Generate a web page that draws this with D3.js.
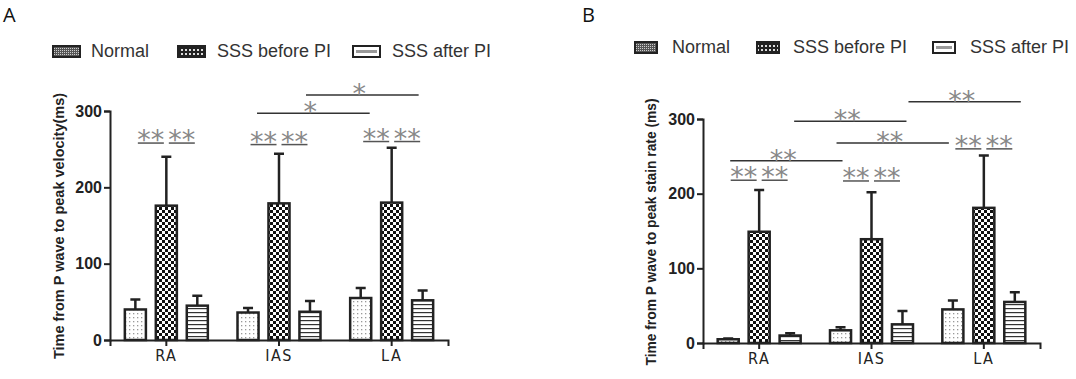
<!DOCTYPE html>
<html lang="en">
<head>
<meta charset="utf-8">
<title>Time from P wave to peak</title>
<style>
    body { margin: 0; background: #fff; }
    svg { display: block; }
    .yax .tick text { font-family: "Liberation Sans", Arial, sans-serif; font-weight: bold; font-size: 16px; fill: #222; }
    .cat .tick text { font-family: "DejaVu Sans Condensed", "Liberation Sans Narrow", sans-serif; font-weight: normal; font-size: 16px; fill: #222; }
</style>
</head>
<body>
<script src="https://cdnjs.cloudflare.com/ajax/libs/d3/7.9.0/d3.min.js"></script>
<script>

const categories = ["RA", "IAS", "LA"];
const series = ["Normal", "SSS before PI", "SSS after PI"];
const yTicks = [0, 100, 200, 300];

// panel A: time to peak velocity (ms)
const meanA = [[40, 176, 45], [36, 179, 37], [55, 180, 52]];
const errA  = [[13, 64, 13], [6, 65, 14], [13, 72, 13]];
// pair marks: [category, seriesFrom, seriesTo, y]
const pairsA = [[0, 0, 1, 258], [0, 1, 2, 258], [1, 0, 1, 256], [1, 1, 2, 256], [2, 0, 1, 260], [2, 1, 2, 260]];
// long brackets: [catFrom, serFrom, catTo, serTo, y, label, dx]
const bracketsA = [[1, 0, 2, 0, 297, "*", 9], [1, 2, 2, 2, 321, "*", -4]];

// panel B: time to peak strain rate (ms)
const meanB = [[5, 149, 10], [17, 139, 25], [45, 181, 55]];
const errB  = [[1, 56, 3], [4, 63, 18], [12, 70, 13]];
const pairsB = [[0, 0, 1, 218], [0, 1, 2, 218], [1, 0, 1, 217], [1, 1, 2, 217], [2, 0, 1, 260], [2, 1, 2, 260]];
const bracketsB = [[0, 0, 1, 0, 244, "**", 2], [0, 2, 1, 2, 297, "**", 4], [1, 0, 2, 0, 268, "**", -4], [1, 2, 2, 2, 323, "**", 6]];

const svg = d3.select("body").append("svg")
    .attr("width", 1076)
    .attr("height", 379);

// patterns
const defs = svg.append("defs");

const pDots = defs.append("pattern").attr("id", "dots")
    .attr("patternUnits", "userSpaceOnUse").attr("width", 4).attr("height", 4);
pDots.append("rect").attr("width", 4).attr("height", 4).attr("fill", "#fff");
pDots.append("rect").attr("x", 1).attr("y", 1).attr("width", 1.3).attr("height", 1.3).attr("fill", "#999");

const pCheck = defs.append("pattern").attr("id", "check")
    .attr("patternUnits", "userSpaceOnUse").attr("width", 6).attr("height", 6);
pCheck.append("rect").attr("width", 6).attr("height", 6).attr("fill", "#fff");
pCheck.append("rect").attr("width", 3).attr("height", 3).attr("fill", "#111");
pCheck.append("rect").attr("x", 3).attr("y", 3).attr("width", 3).attr("height", 3).attr("fill", "#111");

const pStripe = defs.append("pattern").attr("id", "stripe")
    .attr("patternUnits", "userSpaceOnUse").attr("width", 4).attr("height", 4);
pStripe.append("rect").attr("width", 4).attr("height", 4).attr("fill", "#fff");
pStripe.append("rect").attr("y", 0).attr("width", 4).attr("height", 1.2).attr("fill", "#333");

// legend patterns (darker, small)
const lgDots = defs.append("pattern").attr("id", "lgdots")
    .attr("patternUnits", "userSpaceOnUse").attr("width", 2).attr("height", 2);
lgDots.append("rect").attr("width", 2).attr("height", 2).attr("fill", "#555");
lgDots.append("rect").attr("width", 1).attr("height", 1).attr("fill", "#ccc");

const lgCheck = defs.append("pattern").attr("id", "lgcheck")
    .attr("patternUnits", "userSpaceOnUse").attr("width", 4).attr("height", 4);
lgCheck.append("rect").attr("width", 4).attr("height", 4).attr("fill", "#222");
lgCheck.append("rect").attr("x", 1).attr("y", 1).attr("width", 2).attr("height", 2).attr("fill", "#ddd");

const fills = ["url(#dots)", "url(#check)", "url(#stripe)"];
const legendFills = ["url(#lgdots)", "url(#lgcheck)", "#fff"];

function drawPanel(opt) {
    const g = svg.append("g");

    const x0 = d3.scaleBand().domain(categories).range(opt.xRange);
    const x1 = d3.scaleBand().domain(series).range([-41.5, 41.5]).paddingInner(0.32);
    const y = d3.scaleLinear().domain([0, 300]).range(opt.yRange);
    const barX = (c, s) => x0(categories[c]) + x0.bandwidth() / 2 + x1(series[s]) + x1.bandwidth() / 2;

    // panel letter
    g.append("text").attr("x", opt.letterX).attr("y", 22)
        .attr("font-family", "'Open Sans', 'DejaVu Sans', sans-serif").attr("font-size", 20)
        .attr("fill", "#111").text(opt.letter);

    // legend
    const lg = g.selectAll(".lg").data(series).enter().append("g");
    lg.append("rect")
        .attr("x", (d, i) => opt.legend[i][0]).attr("y", opt.legendY - 5)
        .attr("width", opt.swW).attr("height", 11)
        .attr("fill", (d, i) => legendFills[i])
        .attr("stroke", "#222").attr("stroke-width", 2);
    lg.filter((d, i) => i === 2).append("rect")
        .attr("x", opt.legend[2][0] + 3).attr("y", opt.legendY - 1)
        .attr("width", opt.swW - 6).attr("height", 3)
        .attr("fill", "#999");
    lg.append("text")
        .attr("x", (d, i) => opt.legend[i][1]).attr("y", opt.legendY + 6)
        .attr("font-family", "'Liberation Sans', Arial, sans-serif").attr("font-size", 18)
        .attr("fill", "#333").text(d => d);

    // y axis
    const yAxis = g.append("g").attr("class", "yax")
        .attr("transform", `translate(${opt.xRange[0]},0)`)
        .call(d3.axisLeft(y).tickValues(yTicks).tickSize(6).tickPadding(2));
    yAxis.select(".domain").attr("stroke", "#222").attr("stroke-width", 2);
    yAxis.selectAll(".tick line").attr("stroke", "#222").attr("stroke-width", 2);
    yAxis.selectAll(".tick text").attr("font-family", null).attr("font-size", null);

    // x axis
    const xAxis = g.append("g").attr("class", "cat")
        .attr("transform", `translate(0,${opt.yRange[0]})`)
        .call(d3.axisBottom(x0).tickSizeOuter(0).tickSize(6).tickPadding(4));
    xAxis.select(".domain").attr("stroke", "#222").attr("stroke-width", 2);
    xAxis.selectAll(".tick line").attr("stroke", "#222").attr("stroke-width", 2);
    xAxis.selectAll(".tick text").attr("font-size", null).attr("font-family", null).attr("letter-spacing", 1.5);

    // y label
    g.append("text")
        .attr("transform", `translate(${opt.labelX},${opt.labelY}) rotate(-90)`)
        .attr("text-anchor", "middle")
        .attr("font-family", "'Liberation Sans', Arial, sans-serif")
        .attr("font-weight", "bold").attr("font-size", opt.labelSize)
        .attr("fill", "#222").text(opt.label);

    // bars
    const flat = [];
    opt.mean.forEach((row, c) => row.forEach((v, s) => flat.push({c, s, v, e: opt.err[c][s]})));

    const bw = x1.bandwidth();
    g.selectAll(".err").data(flat).enter().append("path")
        .attr("d", d => {
            const cx = barX(d.c, d.s);
            return `M${cx},${y(d.v)}V${y(d.v + d.e)}M${cx - 5},${y(d.v + d.e)}H${cx + 5}`;
        })
        .attr("stroke", "#222").attr("stroke-width", 2.5).attr("fill", "none");

    g.selectAll(".bar").data(flat).enter().append("rect")
        .attr("x", d => barX(d.c, d.s) - bw / 2)
        .attr("y", d => y(d.v))
        .attr("width", bw)
        .attr("height", d => y(0) - y(d.v))
        .attr("fill", d => fills[d.s])
        .attr("stroke", "#222").attr("stroke-width", 2.5);

    // significance: pairs (underlined stars)
    const star = (sel) => sel.attr("text-anchor", "middle")
        .attr("font-family", "'DejaVu Sans', sans-serif").attr("font-size", 27)
        .attr("fill", "#888");

    opt.pairs.forEach(([c, s1, s2, yv]) => {
        const cx = (barX(c, s1) + barX(c, s2)) / 2;
        const yy = y(yv);
        g.append("line").attr("x1", cx - 13).attr("x2", cx + 13).attr("y1", yy).attr("y2", yy)
            .attr("stroke", "#555").attr("stroke-width", 1.5);
        g.append("text").attr("x", cx).attr("y", yy + 6).text("**").call(star);
    });

    opt.brackets.forEach(([c1, s1, c2, s2, yv, lab, dx]) => {
        const xa = barX(c1, s1) + dx, xb = barX(c2, s2) + dx;
        const yy = y(yv);
        g.append("line").attr("x1", xa).attr("x2", xb).attr("y1", yy).attr("y2", yy)
            .attr("stroke", "#333").attr("stroke-width", 1.5);
        g.append("text").attr("x", (xa + xb) / 2 - 3).attr("y", yy + 8).text(lab).call(star);
    });
}

drawPanel({
    letter: "A", letterX: 3,
    xRange: [110, 448], yRange: [340, 111],
    mean: meanA, err: errA, pairs: pairsA, brackets: bracketsA,
    label: "Time from P wave to peak velocity(ms)", labelX: 64, labelY: 226, labelSize: 14.5,
    legendY: 51, swW: 27, legend: [[53, 91], [178, 217], [353, 392]]
});

drawPanel({
    letter: "B", letterX: 582,
    xRange: [703, 1040], yRange: [343, 119],
    mean: meanB, err: errB, pairs: pairsB, brackets: bracketsB,
    label: "Time from P wave to peak stain rate (ms)", labelX: 656, labelY: 232, labelSize: 13.8,
    legendY: 47, swW: 22, legend: [[635, 672], [757, 793], [933, 970]]
});

</script>
</body>
</html>
